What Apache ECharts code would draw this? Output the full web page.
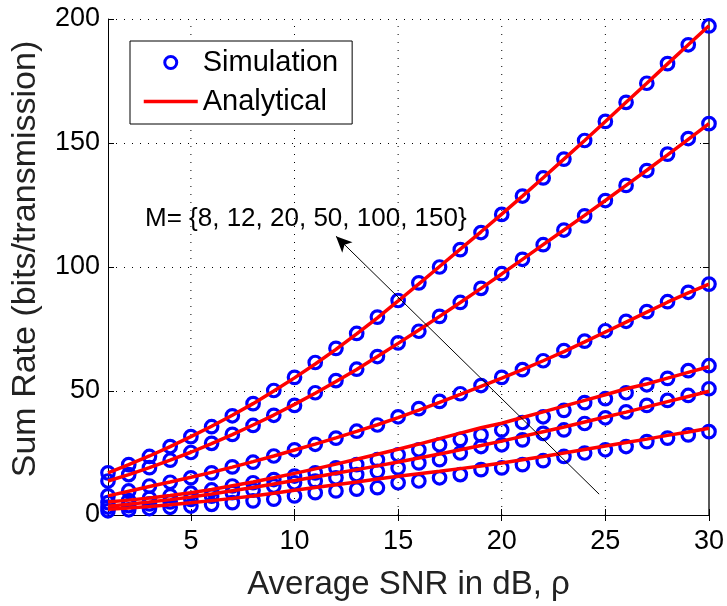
<!DOCTYPE html>
<html>
<head>
<meta charset="utf-8">
<script src="https://cdn.jsdelivr.net/npm/echarts@6/dist/echarts.min.js"></script>
<style>
html,body{margin:0;padding:0;background:#fff;}
#chart{width:727px;height:606px;}
</style>
</head>
<body>
<div id="chart"></div>
<script>
// ---- Data ----
const snr = [1,2,3,4,5,6,7,8,9,10,11,12,13,14,15,16,17,18,19,20,21,22,23,24,25,26,27,28,29,30];
const xTicks = [5,10,15,20,25,30];
const xGrid = [5,10,15,20,25];
const yRange = [0, 200];

// Simulation (circles)
const simM150 = [17,20.3,23.6,27.6,31.6,35.6,40,44.9,50.2,55.5,61.5,67.2,73.2,79.8,86.5,93.6,100,107,113.9,121.2,128.6,135.9,143.5,151,158.7,166.4,174.1,182,189.6,197.2];
const simM100 = [13.7,16.3,19.1,22.1,25.2,28.9,32.5,36.1,40.2,44.2,49.3,54.2,58.8,63.9,69.4,74.1,80.1,85.7,91.4,97.3,103.1,109,114.9,120.6,126.8,132.9,138.9,145.5,151.8,157.8];
const simM50  = [7.7,9.7,11.7,13.2,15,17,19.4,21.3,23.8,26.3,28.5,31,33.8,36.3,39.6,42.9,45.8,48.9,52.2,55.5,58.6,62.2,66.3,70.1,74.3,78.1,82,86,89.8,93.1];
const simM20  = [5.0,5.8,6.7,7.7,8.8,10.1,11.7,13,14.3,15.7,17,19,20.3,22.3,24.3,26.3,28.3,30.5,32.3,34.3,37.3,39.6,42.2,45.3,46.9,49.3,52.5,55.1,58.2,60.2];
const simM12  = [3.2,3.8,4.5,5.3,6.3,7.6,9,10,11.7,13,13.7,15,16.3,17.6,19,21,22.3,25,27.6,28.3,30.3,32.9,34.3,36.9,39.2,41.6,44.2,46.2,48.2,50.9];
const simM8   = [1.7,2.1,2.6,3.1,3.6,4.3,5,5.7,6.4,7.7,9,9.7,10.4,11,13,13.7,15,16.3,18.3,19,20.3,21.9,23.6,25,26.3,27.6,29.6,31,32.3,33.6];

// Analytical (lines)
const anaM150 = [17,20.3,23.8,27.6,31.6,35.8,40.2,44.9,50,55.3,60.9,66.8,73,79.5,86.3,93.2,100.2,107.2,114.2,121.3,128.6,136,143.5,151,158.7,166.4,174.1,181.9,189.6,197.3];
const anaM100 = [13.7,16.3,19.1,22.1,25.3,28.8,32.4,36.3,40.3,44.6,49.1,53.8,58.7,63.9,69.2,74.6,80.1,85.7,91.4,97.2,103.1,109,114.9,120.8,126.8,132.9,139,145.2,151.5,157.8];
const anaM50  = [7.7,9.6,11.5,13.3,15.2,17.2,19.3,21.5,23.8,26.2,28.6,31.1,33.7,36.4,39.3,42.3,45.4,48.6,51.9,55.2,58.6,62.2,65.9,69.8,73.8,77.8,81.8,85.8,89.6,93.1];
const anaM20  = [5.2,6.0,6.9,7.9,9.0,10.3,11.8,13.3,15.0,16.8,18.6,20.5,22.5,24.5,26.5,28.6,30.8,33.0,35.2,37.0,39.3,41.6,43.9,46.2,48.5,50.9,52.8,55.2,57.5,59.8];
const anaM12  = [3.5,4.3,5.2,6.2,7.3,8.5,9.8,11.1,12.5,13.9,15.3,16.8,18.3,19.8,21.4,23.0,24.6,26.3,28.0,29.8,31.7,33.6,35.5,37.5,39.5,41.5,43.6,45.7,47.8,49.9];
const anaM8   = [2.3,2.8,3.4,4.1,4.9,5.8,6.7,7.7,8.8,10.0,11.1,12.2,13.3,14.5,15.6,16.6,17.6,18.7,19.8,21.0,22.3,23.6,25.0,26.4,27.8,29.2,30.6,32.1,33.5,35.0];

const annotationText = 'M= {8, 12, 20, 50, 100, 150}';
const arrowFrom = [24.7, 8.4];
const arrowTo = [12.0, 112.4];

// ---- Chart ----
const FONT = '"Liberation Sans", Arial, Helvetica, sans-serif';
const sims = [simM8, simM12, simM20, simM50, simM100, simM150];
const anas = [anaM8, anaM12, anaM20, anaM50, anaM100, anaM150];
const pair = arr => snr.map((x, i) => [x, arr[i]]);
const dotted = { color: '#000', width: 1, type: [1, 7] };

const series = [];
// dotted vertical grid lines at the x tick values (axis starts at 1)
xGrid.forEach(v => series.push({
  type: 'line', data: [[v, yRange[0]], [v, yRange[1]]],
  symbol: 'none', showSymbol: false, silent: true, z: 1,
  lineStyle: dotted, emphasis: { disabled: true }, legendHoverLink: false
}));
sims.forEach(s => series.push({
  name: 'Simulation', type: 'scatter', data: pair(s),
  symbol: 'circle', symbolSize: 12.5,
  itemStyle: { color: 'rgba(255,255,255,0)', borderColor: '#0000ff', borderWidth: 3.2, opacity: 1 },
  z: 2, silent: true
}));
anas.forEach(a => series.push({
  name: 'Analytical', type: 'line', data: pair(a),
  symbol: 'none', showSymbol: false, smooth: false,
  lineStyle: { color: '#ff0000', width: 3.5 },
  itemStyle: { color: '#ff0000' },
  z: 3, silent: true
}));
series.push({
  type: 'line', data: [], silent: true, z: 4,
  markLine: {
    silent: true, animation: false,
    symbol: ['none', 'arrow'], symbolSize: [11, 16],
    label: { show: false },
    lineStyle: { color: '#000', width: 1, type: 'solid' },
    data: [[{ coord: arrowFrom }, { coord: arrowTo }]]
  }
});

const chart = echarts.init(document.getElementById('chart'), null, { renderer: 'canvas' });
chart.setOption({
  animation: false,
  backgroundColor: '#fff',
  grid: { left: 108, right: 17, top: 19, bottom: 85, containLabel: false },
  legend: {
    data: [
      { name: 'Simulation', itemStyle: { borderWidth: 3, borderColor: '#0000ff', color: 'rgba(255,255,255,0)', opacity: 1 } },
      { name: 'Analytical', itemStyle: { opacity: 0 } }
    ],
    orient: 'vertical', left: 130, top: 41,
    padding: [7, 14, 8, 12], itemGap: 10,
    itemWidth: 54, itemHeight: 12,
    backgroundColor: '#fff', borderColor: '#000', borderWidth: 1,
    textStyle: { fontSize: 29, color: '#000', fontFamily: FONT },
    lineStyle: { width: 3.5, color: '#ff0000' },
    selectedMode: false, z: 10
  },
  xAxis: [{
    type: 'value', min: 1, max: 30, position: 'bottom',
    name: 'Average SNR in dB, \u03c1', nameLocation: 'middle', nameGap: 53,
    nameTextStyle: { fontSize: 33, color: '#222', fontFamily: FONT },
    axisLine: { show: true, lineStyle: { color: '#000', width: 1 } },
    axisTick: { show: true, inside: true, length: 6, customValues: xTicks, lineStyle: { color: '#000' } },
    axisLabel: { customValues: xTicks, fontSize: 27, color: '#000', margin: 13, fontFamily: FONT },
    splitLine: { show: false }
  }, {
    type: 'value', min: 1, max: 30, position: 'top',
    axisLine: { show: true, lineStyle: { color: '#000', width: 1 } },
    axisTick: { show: true, inside: true, length: 6, customValues: xTicks, lineStyle: { color: '#000' } },
    axisLabel: { show: false },
    splitLine: { show: false }
  }],
  yAxis: [{
    type: 'value', min: yRange[0], max: yRange[1], interval: 50, position: 'left',
    axisLine: { show: true, lineStyle: { color: '#000', width: 1 } },
    axisTick: { show: true, inside: true, length: 6, lineStyle: { color: '#000' } },
    axisLabel: { fontSize: 27, color: '#000', margin: 8, fontFamily: FONT },
    splitLine: { show: true, lineStyle: dotted }
  }, {
    type: 'value', min: yRange[0], max: yRange[1], interval: 50, position: 'right',
    axisLine: { show: true, lineStyle: { color: '#222', width: 1.5 } },
    axisTick: { show: true, inside: true, length: 6, lineStyle: { color: '#000' } },
    axisLabel: { show: false },
    splitLine: { show: false }
  }],
  graphic: [{
    type: 'text', left: 145, top: 206, silent: true,
    style: { text: annotationText, fill: '#000', font: '26px ' + FONT }
  }, {
    type: 'text', x: 26, y: 259, rotation: Math.PI / 2, silent: true,
    style: { text: 'Sum Rate (bits/transmission)', fill: '#222', align: 'center', verticalAlign: 'middle', font: '34px ' + FONT }
  }],
  series: series
});
</script>
</body>
</html>
